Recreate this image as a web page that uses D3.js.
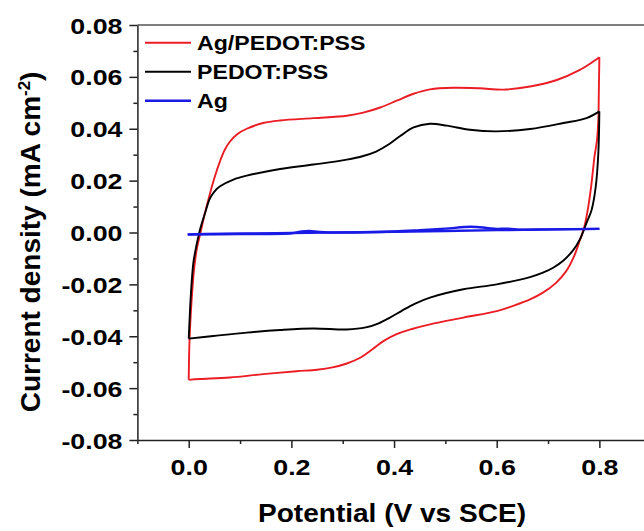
<!DOCTYPE html>
<html>
<head>
<meta charset="utf-8">
<script src="https://cdn.jsdelivr.net/npm/d3@7/dist/d3.min.js"></script>
<style>
body { margin: 0; background: #fff; }
svg { display: block; }
text { font-family: "Liberation Sans", Arial, sans-serif; font-weight: bold; fill: #000; }
</style>
</head>
<body>
<div id="chart"></div>
<script>
// ---- data (V vs SCE, mA cm^-2) ----
const potential_ticks = [0.0, 0.2, 0.4, 0.6, 0.8];
const potential_minor = [-0.1, 0.1, 0.3, 0.5, 0.7, 0.9];
const current_ticks = [-0.08, -0.06, -0.04, -0.02, 0.00, 0.02, 0.04, 0.06, 0.08];
const current_minor = [-0.07, -0.05, -0.03, -0.01, 0.01, 0.03, 0.05, 0.07];

const series_names = ["Ag/PEDOT:PSS", "PEDOT:PSS", "Ag"];
const series_colors = ["#ea1c24", "#000000", "#1a1ae6"];

// Ag/PEDOT:PSS
const agpedot_forward = [
  [0.000, -0.0568], [0.001, -0.045], [0.003, -0.035], [0.006, -0.025], [0.010, -0.015],
  [0.016, -0.006], [0.023, 0.000], [0.031, 0.007], [0.040, 0.014], [0.050, 0.021],
  [0.061, 0.0275], [0.070, 0.0318], [0.080, 0.0350], [0.095, 0.0380], [0.113, 0.0400],
  [0.145, 0.0422], [0.178, 0.0432], [0.243, 0.0441], [0.308, 0.045], [0.340, 0.0462],
  [0.373, 0.0482], [0.405, 0.0508], [0.438, 0.0535], [0.470, 0.0552], [0.516, 0.0558],
  [0.567, 0.0556], [0.613, 0.0551], [0.665, 0.0563], [0.717, 0.0588], [0.762, 0.0627],
  [0.788, 0.0659], [0.800, 0.0676]
];
const agpedot_reverse = [
  [0.800, 0.0676], [0.799, 0.055], [0.798, 0.0435], [0.795, 0.035], [0.791, 0.0300],
  [0.784, 0.0178], [0.778, 0.0095], [0.771, 0.0024], [0.762, -0.0030], [0.750, -0.0095],
  [0.735, -0.0150], [0.715, -0.0195], [0.690, -0.0232], [0.665, -0.0258], [0.633, -0.0282],
  [0.600, -0.0303], [0.535, -0.0328], [0.470, -0.0354], [0.435, -0.0372], [0.405, -0.0392],
  [0.380, -0.0418], [0.358, -0.0450], [0.335, -0.0482], [0.308, -0.0505], [0.280, -0.0520],
  [0.250, -0.0529], [0.210, -0.0535], [0.145, -0.0546], [0.080, -0.0559], [0.022, -0.0565],
  [0.000, -0.0568]
];

// PEDOT:PSS
const pedot_forward = [
  [0.000, -0.0409], [0.002, -0.032], [0.004, -0.0245], [0.009, -0.0117], [0.015, -0.005],
  [0.019, -0.0014], [0.022, 0.0012], [0.032, 0.0076], [0.041, 0.013], [0.050, 0.0158],
  [0.061, 0.0178], [0.087, 0.0204], [0.113, 0.0219], [0.178, 0.0245], [0.243, 0.0262],
  [0.308, 0.0281], [0.340, 0.0295], [0.365, 0.0312], [0.390, 0.0340], [0.412, 0.0372],
  [0.438, 0.0405], [0.470, 0.0419], [0.503, 0.0412], [0.548, 0.0396], [0.600, 0.039],
  [0.665, 0.0399], [0.730, 0.0422], [0.775, 0.0441], [0.800, 0.0467]
];
const pedot_reverse = [
  [0.800, 0.0467], [0.798, 0.0307], [0.793, 0.0178], [0.785, 0.0088], [0.775, 0.0037],
  [0.762, -0.0027], [0.749, -0.0068], [0.730, -0.0108], [0.710, -0.0136], [0.690, -0.0155],
  [0.665, -0.0172], [0.600, -0.020], [0.535, -0.0219], [0.470, -0.0251], [0.440, -0.0275],
  [0.415, -0.0302], [0.392, -0.0328], [0.370, -0.0350], [0.345, -0.0366], [0.308, -0.0374],
  [0.243, -0.0370], [0.178, -0.0376], [0.113, -0.0386], [0.048, -0.0399], [0.000, -0.0409]
];

// Ag
const ag_forward = [
  [-0.002, -0.0008], [0.100, -0.0006], [0.200, -0.0003], [0.220, 0.0004], [0.235, 0.0006],
  [0.255, 0.0002], [0.300, 0.0000], [0.400, 0.0004], [0.450, 0.0009], [0.500, 0.0015],
  [0.550, 0.0022], [0.580, 0.0018], [0.600, 0.0014], [0.620, 0.0015], [0.650, 0.0011],
  [0.700, 0.0012], [0.800, 0.0014]
];
const ag_reverse = [
  [0.800, 0.0014], [0.600, 0.0009], [0.400, 0.0003], [0.200, -0.0002], [0.000, -0.0007],
  [-0.002, -0.0008]
];

const branches = [
  { data: agpedot_forward, s: 0 }, { data: agpedot_reverse, s: 0 },
  { data: pedot_forward, s: 1 }, { data: pedot_reverse, s: 1 },
  { data: ag_forward, s: 2 }, { data: ag_reverse, s: 2 }
];

// ---- layout ----
const W = 644, H = 531;
const margin = { left: 137.4, top: 25 };
const plotW = 513.3, plotH = 415;
const axisColor = "#222";

const svg = d3.select("#chart").append("svg")
  .attr("width", W).attr("height", H);

const x = d3.scaleLinear().domain([-0.1, 0.9]).range([margin.left, margin.left + plotW]);
const y = d3.scaleLinear().domain([-0.08, 0.08]).range([margin.top + plotH, margin.top]);

// curves
const line = d3.line()
  .x(d => x(d[0]))
  .y(d => y(d[1]))
  .curve(d3.curveCatmullRom.alpha(0.5));

svg.append("g")
  .attr("class", "curves")
  .selectAll("path")
  .data(branches)
  .enter().append("path")
  .attr("d", d => line(d.data))
  .attr("fill", "none")
  .attr("stroke", d => series_colors[d.s])
  .attr("stroke-width", d => d.s == 2 ? 2.4 : 1.9)
  .attr("stroke-linejoin", "round");

// top frame line
svg.append("line")
  .attr("x1", x(-0.1)).attr("x2", x(0.9))
  .attr("y1", y(0.08)).attr("y2", y(0.08))
  .attr("stroke", "#555").attr("stroke-width", 1.5);

// y axis
const yAxis = svg.append("g")
  .attr("transform", `translate(${margin.left},0)`)
  .call(d3.axisLeft(y).tickValues(current_ticks).tickSize(8).tickSizeOuter(0)
    .tickFormat(d => d.toFixed(2)));
svg.append("g")
  .attr("transform", `translate(${margin.left},0)`)
  .call(d3.axisLeft(y).tickValues(current_minor).tickSize(4).tickSizeOuter(0).tickFormat(""))
  .select(".domain").remove();

yAxis.selectAll("text")
  .attr("x", -15 / 1.19)
  .attr("dy", "0.36em")
  .attr("transform", "scale(1.19,1)")
  .style("font-size", "22.5px");

// x axis
const xAxis = svg.append("g")
  .attr("transform", `translate(0,${margin.top + plotH})`)
  .call(d3.axisBottom(x).tickValues(potential_ticks).tickSize(8).tickSizeOuter(0)
    .tickFormat(d => d.toFixed(1)));
svg.append("g")
  .attr("transform", `translate(0,${margin.top + plotH})`)
  .call(d3.axisBottom(x).tickValues(potential_minor).tickSize(4).tickSizeOuter(0).tickFormat(""))
  .select(".domain").remove();

xAxis.selectAll("text")
  .attr("y", 35.3)
  .attr("dy", null)
  .attr("transform", "scale(1.22,1)")
  .attr("x", 0)
  .attr("text-anchor", "middle")
  .style("font-size", "22px");

svg.selectAll(".domain, .tick line")
  .attr("stroke", axisColor)
  .attr("stroke-width", 1.5);

// axis titles
svg.append("text")
  .attr("transform", `translate(392,521.7) scale(1.1,1)`)
  .attr("text-anchor", "middle")
  .style("font-size", "25.5px")
  .text("Potential (V vs SCE)");

const ytitle = svg.append("text")
  .attr("transform", "translate(40,242) rotate(-90) scale(1.12,1.12)")
  .attr("text-anchor", "middle")
  .style("font-size", "25px");
ytitle.append("tspan").text("Current density (mA cm");
ytitle.append("tspan").attr("dy", -9).style("font-size", "15px").text("-2");
ytitle.append("tspan").attr("dy", 9).text(")");

// legend
const legend = svg.append("g").attr("class", "legend");
const rows = legend.selectAll("g")
  .data(series_names)
  .enter().append("g")
  .attr("transform", (d, i) => `translate(145,${42.7 + i * 29})`);
rows.append("line")
  .attr("x1", 0).attr("x2", 46)
  .attr("stroke", (d, i) => series_colors[i])
  .attr("stroke-width", (d, i) => i == 2 ? 2.4 : 1.9);
rows.append("text")
  .attr("x", 52 / 1.13)
  .attr("dy", "0.36em")
  .attr("transform", "scale(1.13,1)")
  .style("font-size", "20.5px")
  .text(d => d);
</script>
</body>
</html>
